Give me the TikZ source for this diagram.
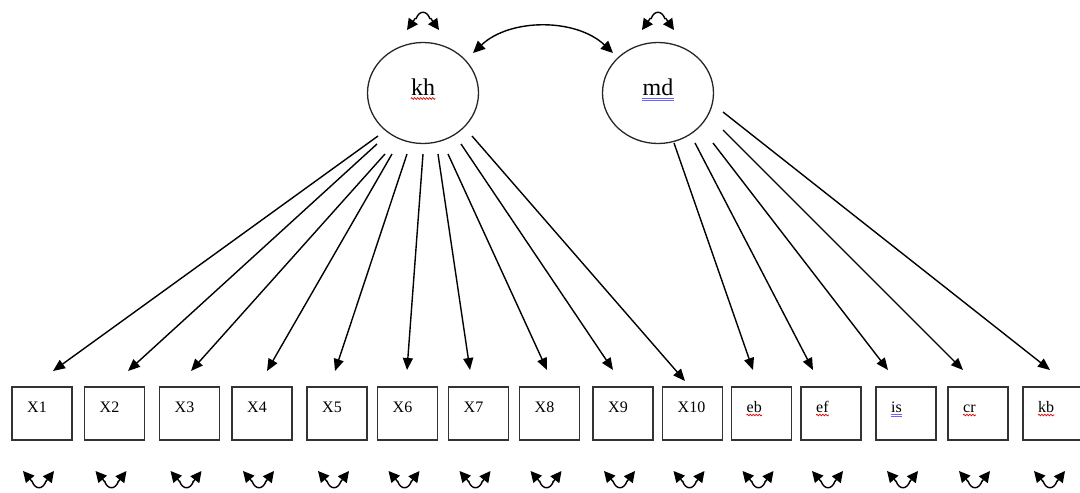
\documentclass[tikz,border=0pt]{standalone}
\usepackage{fontspec}
\setmainfont{Liberation Serif}
\usetikzlibrary{arrows.meta,shapes.geometric,decorations.pathmorphing,calc}
\begin{document}
\begin{tikzpicture}[x=1pt,y=-1pt,
 obs/.style={draw=black!80,line width=1.4pt,minimum width=60pt,minimum height=53pt,inner sep=0pt},
 lat/.style={draw=black!85,line width=1.3pt,ellipse,minimum width=111pt,minimum height=101pt,inner sep=0pt},
 lab/.style={font=\fontsize{16}{19}\selectfont,inner sep=0pt,anchor=base west},
 latlab/.style={font=\fontsize{24}{28}\selectfont,inner sep=0pt,anchor=base},
 load/.style={line width=1.4pt,-{Triangle[length=12pt,width=10pt]}},
 cov/.style={line width=1.4pt,{Triangle[length=12pt,width=11pt]}-{Triangle[length=12pt,width=11pt]}},
 arc/.style={line width=1.4pt},
 head/.style={line width=1.4pt,-{Triangle[length=11pt,width=11pt]}},
 redwave/.style={draw=red!85!black,line width=0.7pt,decorate,decoration={snake,amplitude=0.8pt,segment length=3pt}},
 bluedbl/.style={draw=blue!60,line width=0.6pt},
]
\useasboundingbox (0,0) rectangle (1080,493);

% latent variables
\node[lat] (kh) at (423,93) {};
\node[lat] (md) at (658,93) {};
\node[latlab] (khl) at (423,95) {kh};
\node[latlab] (mdl) at (658,95) {md};
\draw[redwave] ($(khl.base west)+(0,3.5)$) -- ($(khl.base east)+(0,3.5)$);
\draw[bluedbl] ($(mdl.base west)+(0,3)$) -- ($(mdl.base east)+(0,3)$);
\draw[bluedbl] ($(mdl.base west)+(0,5.5)$) -- ($(mdl.base east)+(0,5.5)$);

% variances of latent variables
\foreach \c in {423,658}{
  \draw[arc] (\c-7,19) .. controls (\c-4,10) and (\c+4,10) .. (\c+7,19);
  \draw[head] (\c-7.5,18) -- (\c-16,30);
  \draw[head] (\c+7.5,18) -- (\c+16,30);
}

% covariance
\coordinate (c1) at (473,53); \coordinate (c2) at (613,53);
\draw[cov] (c1) .. controls (510,18) and (576,18) .. (c2);

% observed variables
\foreach \n/\x in {X1/42,X2/114.5,X3/189.5,X4/262,X5/337,X6/407.5,X7/478.5,X8/549.5,X9/623,X10/692.5,eb/761.5,ef/831,is/906,cr/978,kb/1053}{
  \node[obs] (\n) at (\x,413.5) {};
  \node[lab] (\n l) at (\x-15,412) {\n};
  \draw[arc] (\x-10,481) .. controls (\x-7,490) and (\x+1,490) .. (\x+4,481);
  \draw[head] (\x-9.5,482) -- (\x-19,471);
  \draw[head] (\x+3.5,482) -- (\x+12,471);
}
\foreach \n in {ebl,efl,crl,kbl}{
  \draw[redwave] ($(\n.base west)+(0,3)$) -- ($(\n.base east)+(0,3)$);
}
\draw[bluedbl] ($(isl.base west)+(0,2.5)$) -- ($(isl.base east)+(0,2.5)$);
\draw[bluedbl] ($(isl.base west)+(0,4.5)$) -- ($(isl.base east)+(0,4.5)$);

% loadings kh
\coordinate (a1) at (378,136);  \coordinate (b1) at (53,371);
\coordinate (a2) at (377,144);  \coordinate (b2) at (128,371);
\coordinate (a3) at (385,154);  \coordinate (b3) at (191,371);
\coordinate (a4) at (392,154);  \coordinate (b4) at (267,371);
\coordinate (a5) at (407,154);  \coordinate (b5) at (335,371);
\coordinate (a6) at (423,154);  \coordinate (b6) at (407,370);
\coordinate (a7) at (438,154);  \coordinate (b7) at (470,370);
\coordinate (a8) at (448,154);  \coordinate (b8) at (547,370);
\coordinate (a9) at (461,144);  \coordinate (b9) at (613,370);
\coordinate (a10) at (472,136); \coordinate (b10) at (685,381);
\foreach \i in {1,...,10}{\draw[load] (a\i) -- (b\i);}

% loadings md
\coordinate (m1) at (674,143); \coordinate (n1) at (753,370);
\coordinate (m2) at (695,143); \coordinate (n2) at (813,370);
\coordinate (m3) at (713,143); \coordinate (n3) at (888,370);
\coordinate (m4) at (723,130); \coordinate (n4) at (963,370);
\coordinate (m5) at (723,112); \coordinate (n5) at (1050,370);
\foreach \i in {1,...,5}{\draw[load] (m\i) -- (n\i);}
\end{tikzpicture}
\end{document}
